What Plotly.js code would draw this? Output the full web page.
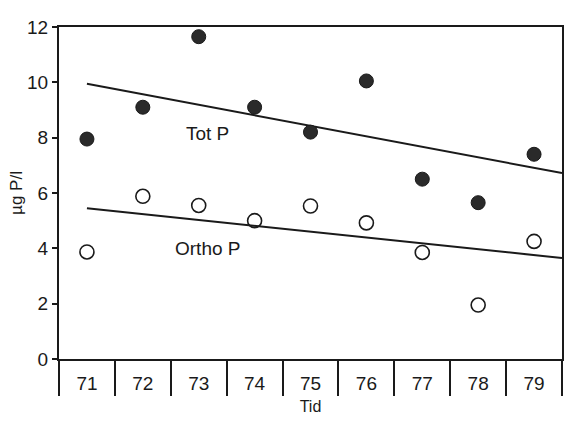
<!DOCTYPE html>
<html>
<head>
<meta charset="utf-8">
<script src="https://cdn.plot.ly/plotly-3.0.1.min.js"></script>
<style>html,body{margin:0;padding:0;background:#fff;}#chart{width:564px;height:421px;}</style>
</head>
<body>
<div id="chart"></div>
<script>
// Data
const years = [71, 72, 73, 74, 75, 76, 77, 78, 79];
const yearLabels = ["71", "72", "73", "74", "75", "76", "77", "78", "79"];
const totP = [7.95, 9.1, 11.65, 9.1, 8.2, 10.05, 6.5, 5.65, 7.4];
const orthoP = [3.87, 5.88, 5.55, 5.0, 5.53, 4.92, 3.85, 1.95, 4.25];
const trendX = [71, 79.5];
const totTrend = [9.95, 6.72];
const orthoTrend = [5.45, 3.65];
const yTicks = [0, 2, 4, 6, 8, 10, 12];

const ink = "#1a1a1a";
const boundaries = years.map(v => v - 0.5).concat([years[years.length - 1] + 0.5]);

const traces = [
  {x: trendX, y: totTrend, mode: "lines", line: {color: ink, width: 2}, hoverinfo: "skip", showlegend: false},
  {x: trendX, y: orthoTrend, mode: "lines", line: {color: ink, width: 2}, hoverinfo: "skip", showlegend: false},
  {x: years, y: totP, mode: "markers", name: "Tot P",
   marker: {symbol: "circle", size: 14, color: "#2a2a2a", line: {color: ink, width: 1}}, showlegend: false},
  {x: years, y: orthoP, mode: "markers", name: "Ortho P",
   marker: {symbol: "circle-open", size: 14, color: ink, line: {color: ink, width: 1.6}}, showlegend: false}
];

const layout = {
  width: 564, height: 421,
  margin: {l: 59, r: 2, t: 27, b: 62},
  paper_bgcolor: "#fff", plot_bgcolor: "#fff",
  font: {family: "Liberation Sans, Arial, sans-serif", color: ink},
  showlegend: false,
  xaxis: {
    range: [boundaries[0], boundaries[boundaries.length - 1]],
    tickmode: "array", tickvals: years, ticktext: yearLabels,
    ticks: "", ticklabelstandoff: 6,
    tickfont: {size: 19, color: ink},
    showgrid: false, zeroline: false,
    showline: true, linecolor: ink, linewidth: 2, mirror: true,
    minor: {tickmode: "array", tickvals: boundaries, ticks: "outside", ticklen: 35, tickwidth: 2, tickcolor: ink, showgrid: false},
    title: {text: "Tid", font: {size: 16, color: ink}, standoff: 8}
  },
  yaxis: {
    range: [0, 12],
    tickmode: "array", tickvals: yTicks,
    ticks: "outside", ticklen: 5, tickwidth: 2, tickcolor: ink,
    tickfont: {size: 19, color: ink},
    showgrid: false, zeroline: false,
    showline: true, linecolor: ink, linewidth: 2, mirror: true,
    title: {text: "µg P/l", font: {size: 17, color: ink}, standoff: 0}
  },
  annotations: [
    {x: 73.15, y: 8.15, xref: "x", yref: "y", text: "Tot P", showarrow: false, font: {size: 19, color: ink}},
    {x: 73.15, y: 4.0, xref: "x", yref: "y", text: "Ortho P", showarrow: false, font: {size: 19, color: ink}}
  ]
};

Plotly.newPlot("chart", traces, layout, {displayModeBar: false, staticPlot: true});
</script>
</body>
</html>
